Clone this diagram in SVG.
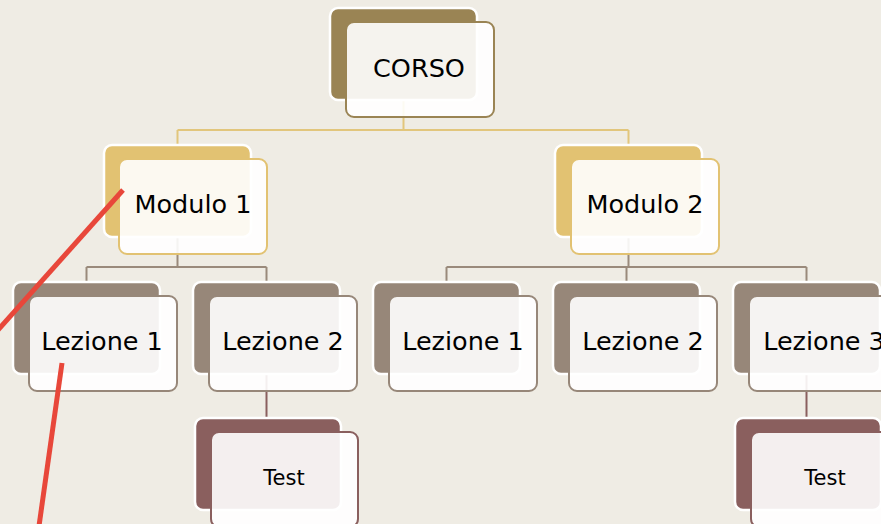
<svg xmlns="http://www.w3.org/2000/svg" width="881" height="524" viewBox="0 0 881 524">
<style>
.back{stroke:#ffffff;stroke-width:2.5}
.front{fill:#ffffff;fill-opacity:0.9;stroke-width:2}
.gold .back{fill:#e2c272}
.gold .front{stroke:#e2c272}
.olive .back{fill:#9a8454}
.olive .front{stroke:#9a8454}
.brown .back{fill:#978779}
.brown .front{stroke:#978779}
.maroon .back{fill:#8a5f5e}
.maroon .front{stroke:#8a5f5e}
.lbl{font-family:"DejaVu Sans",Verdana,sans-serif;font-size:25.5px;fill:#000;text-anchor:middle}
.sm{font-size:21px}
.c1{stroke:#e2c67c;stroke-width:2;fill:none}
.c2{stroke:#9a8a7b;stroke-width:2;fill:none}
.c3{stroke:#8a5f5e;stroke-width:2;fill:none}
.red{stroke:#e8473a;stroke-width:5;stroke-linecap:butt}
</style>
<rect width="881" height="524" fill="#efece4"/>
<g id="connectors">
<path class="c1" d="M403.5 100V130M177.5 130H628.5M177.5 130V145M628.5 130V145"/>
<path class="c2" d="M177.5 237V267M86.5 267H266.5M86.5 267V282M266.5 267V282"/>
<path class="c2" d="M628.5 237V267M446.5 267H806.5M446.5 267V282M626.5 267V282M806.5 267V282"/>
<path class="c3" d="M266.5 373V418M806.5 373V418"/>
</g>
<g id="corso" class="olive">
<rect class="back" x="330" y="8" width="147" height="92" rx="8"/>
<rect class="front" x="346" y="22" width="148" height="95" rx="8"/>
<text class="lbl" x="419" y="77">CORSO</text>
</g>
<g id="modulo1" class="gold">
<rect class="back" x="104" y="145" width="147" height="92" rx="8"/>
<rect class="front" x="119" y="159" width="148" height="95" rx="8"/>
<text class="lbl" x="193" y="213">Modulo 1</text>
</g>
<g id="modulo2" class="gold">
<rect class="back" x="555" y="145" width="147" height="92" rx="8"/>
<rect class="front" x="571" y="159" width="148" height="95" rx="8"/>
<text class="lbl" x="645" y="213">Modulo 2</text>
</g>
<g id="m1lezione1" class="brown">
<rect class="back" x="13" y="282" width="147" height="92" rx="8"/>
<rect class="front" x="29" y="296" width="148" height="95" rx="8"/>
<text class="lbl" x="102" y="350">Lezione 1</text>
</g>
<g id="m1lezione2" class="brown">
<rect class="back" x="193" y="282" width="147" height="92" rx="8"/>
<rect class="front" x="209" y="296" width="148" height="95" rx="8"/>
<text class="lbl" x="283" y="350">Lezione 2</text>
</g>
<g id="m2lezione1" class="brown">
<rect class="back" x="373" y="282" width="147" height="92" rx="8"/>
<rect class="front" x="389" y="296" width="148" height="95" rx="8"/>
<text class="lbl" x="463" y="350">Lezione 1</text>
</g>
<g id="m2lezione2" class="brown">
<rect class="back" x="553" y="282" width="147" height="92" rx="8"/>
<rect class="front" x="569" y="296" width="148" height="95" rx="8"/>
<text class="lbl" x="643" y="350">Lezione 2</text>
</g>
<g id="m2lezione3" class="brown">
<rect class="back" x="733" y="282" width="147" height="92" rx="8"/>
<rect class="front" x="749" y="296" width="148" height="95" rx="8"/>
<text class="lbl" x="824" y="350">Lezione 3</text>
</g>
<g id="test1" class="maroon">
<rect class="back" x="195" y="418" width="146" height="92" rx="8"/>
<rect class="front" x="211" y="432" width="147" height="95" rx="8"/>
<text class="lbl sm" x="284" y="485">Test</text>
</g>
<g id="test2" class="maroon">
<rect class="back" x="735" y="418" width="146" height="92" rx="8"/>
<rect class="front" x="751" y="432" width="147" height="95" rx="8"/>
<text class="lbl sm" x="825" y="485">Test</text>
</g>
<g id="annotations">
<line class="red" x1="123" y1="190" x2="-2" y2="330"/>
<line class="red" x1="62" y1="363" x2="39" y2="526"/>
</g>
</svg>
